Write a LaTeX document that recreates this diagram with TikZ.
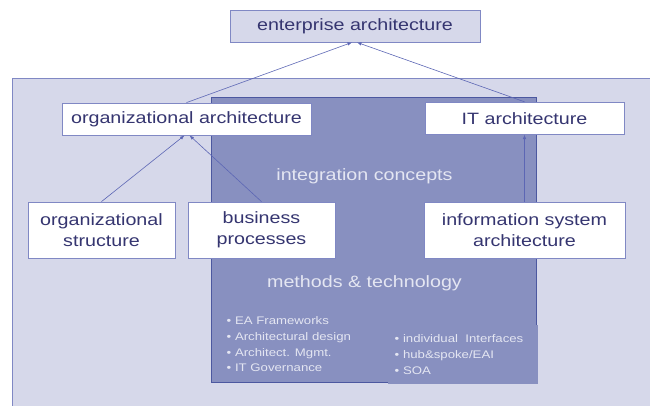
\documentclass[tikz,border=0pt]{standalone}
\usepackage{fontspec}
\setmainfont{Liberation Sans}
\usetikzlibrary{positioning,arrows.meta}

\definecolor{eaback}{HTML}{D6D8EA}
\definecolor{eaedge}{HTML}{8088C4}
\definecolor{eadark}{HTML}{8890C0}
\definecolor{eadarkedge}{HTML}{4C58A0}
\definecolor{eatext}{HTML}{353570}
\definecolor{ealight}{HTML}{E4E6F2}
\definecolor{eaarrow}{HTML}{5C66B4}

\begin{document}
\begin{tikzpicture}[
  x=1pt, y=-1pt,
  >={Latex[length=4.5pt,width=3.5pt]},
  box/.style={draw=eaedge, line width=0.8pt, fill=white, xscale=1.2, align=center, inner sep=0pt, text=eatext, font=\fontsize{16.4}{21}\selectfont},
  concept/.style={xscale=1.2, text=ealight, font=\fontsize{16.4}{20}\selectfont},
  items/.style={xscale=1.2, align=left, inner sep=0pt, text=ealight, font=\fontsize{11}{15.7}\selectfont},
  link/.style={->, draw=eaarrow, line width=0.6pt}
]
  \useasboundingbox (0,0) rectangle (650,405);
  % panels behind the boxes
  \draw[fill=eaback, draw=eaedge, line width=0.8pt] (12,78) rectangle (660,415);
  \draw[fill=eadark, draw=eadarkedge, line width=0.8pt] (211.5,97) rectangle (536.5,382.5);
  \fill[eadark] (387.5,325) rectangle (537.5,383.5);

  \node[box, fill=eaback, minimum width=208.3pt, minimum height=32pt] (ent) at (355,26) {enterprise architecture};
  \node[box, minimum width=207.5pt, minimum height=32pt] (orgarch) at (186.5,119) {organizational architecture};
  \node[box, minimum width=122.5pt, minimum height=56pt] (orgstruct) at (101.5,230) {organizational\\structure};
  \node[box, minimum width=122.5pt, minimum height=56pt, right=12pt of orgstruct] (busproc) {business\\processes};
  \node[box, minimum width=167.5pt, minimum height=56pt] (infosys) at (524.5,230) {information system\\architecture};
  \node[box, minimum width=165.8pt, minimum height=32pt, above=67pt of infosys] (itarch) {IT architecture};

  \node[concept] (integration) at (364.5,176) {integration concepts};
  \node[concept] (methods) at (364.5,283) {methods \& technology};

  \node[items, anchor=west] (frameworks) at (226.5,344.3) {• EA Frameworks\\• Architectural design\\• Architect. Mgmt.\\• IT Governance};
  \node[items, anchor=west] (interfaces) at (394.5,354.5) {• individual\ \ Interfaces\\• hub\&spoke/EAI\\• SOA};

  \draw[link] (orgarch.north) -- ([xshift=-3pt]ent.south);
  \draw[link] (itarch.north) -- ([xshift=2pt]ent.south);
  \draw[link] (orgstruct.north) -- ([xshift=-2pt]orgarch.south);
  \draw[link] (busproc.north) -- ([xshift=3pt]orgarch.south);
  \draw[link] (infosys.north) -- (itarch.south);
\end{tikzpicture}
\end{document}
